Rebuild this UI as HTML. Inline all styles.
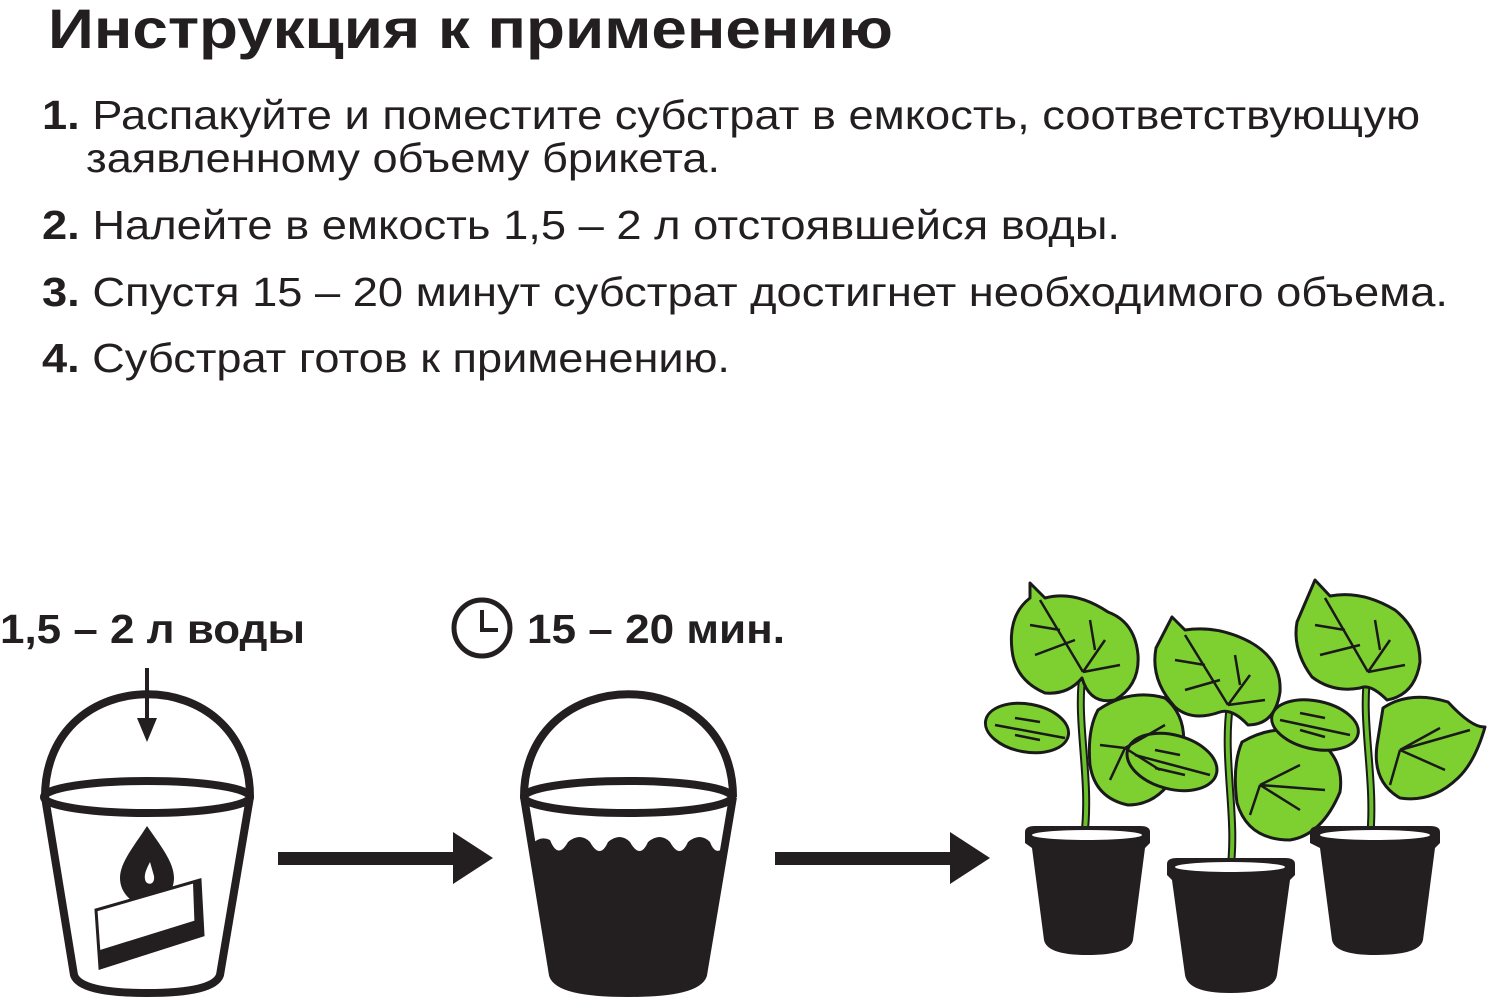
<!DOCTYPE html>
<html><head><meta charset="utf-8"><style>
html,body{margin:0;padding:0;background:#fff;width:1500px;height:1003px;overflow:hidden}
svg{display:block}
text{font-family:"Liberation Sans",Arial,sans-serif;fill:#231f20}
</style></head><body>
<svg width="1500" height="1003" viewBox="0 0 1500 1003" xmlns="http://www.w3.org/2000/svg">
<text x="48" y="48" font-size="56" font-weight="bold" textLength="845" lengthAdjust="spacingAndGlyphs">Инструкция к применению</text>
<g font-size="41">
<text x="42" y="129" textLength="1378" lengthAdjust="spacingAndGlyphs"><tspan font-weight="bold">1.</tspan> Распакуйте и поместите субстрат в емкость, соответствующую</text>
<text x="86" y="172" textLength="634" lengthAdjust="spacingAndGlyphs">заявленному объему брикета.</text>
<text x="42" y="239" textLength="1078" lengthAdjust="spacingAndGlyphs"><tspan font-weight="bold">2.</tspan> Налейте в емкость 1,5 – 2 л отстоявшейся воды.</text>
<text x="42" y="306" textLength="1406" lengthAdjust="spacingAndGlyphs"><tspan font-weight="bold">3.</tspan> Спустя 15 – 20 минут субстрат достигнет необходимого объема.</text>
<text x="42" y="372" textLength="688" lengthAdjust="spacingAndGlyphs"><tspan font-weight="bold">4.</tspan> Субстрат готов к применению.</text>
</g>
<text x="0" y="643" font-size="41" font-weight="bold" textLength="305" lengthAdjust="spacingAndGlyphs">1,5 – 2 л воды</text>
<text x="527" y="643" font-size="41" font-weight="bold" textLength="258" lengthAdjust="spacingAndGlyphs">15 – 20 мин.</text>
<circle cx="482" cy="628" r="28" fill="none" stroke="#231f20" stroke-width="5"/>
<path d="M482 610 V630 H498" fill="none" stroke="#231f20" stroke-width="4"/>

<!-- bucket 1 -->
<g fill="none" stroke="#231f20" stroke-width="8">
<path d="M45 797 C45 660 250 660 250 797"/>
<ellipse cx="147" cy="797" rx="103" ry="16"/>
<path d="M45 797 L74 975 Q80 993 147 993 Q214 993 220 975 L250 797"/>
</g>
<path d="M147 668 V720" stroke="#231f20" stroke-width="4"/>
<path d="M137 718 H157 L147 742 Z" fill="#231f20"/>
<path d="M147 826 C135 845 120 862 120 878 A20 20 0 0 0 174 878 C174 862 160 845 147 826 Z" fill="#231f20"/>
<path d="M150 862 C146 870 143 876 146 882 C150 886 155 883 154 876 Z" fill="#fff"/>
<path d="M96 910 L200 880 L203 935 L100 968 Z" fill="#fff" stroke="#231f20" stroke-width="3"/>
<path d="M100 950 L203 918 L203 935 L100 968 Z" fill="#231f20"/>
<path d="M193 883 L200 880 L203 935 L195 938 Z" fill="#231f20"/>

<!-- arrows -->
<rect x="278" y="852" width="178" height="13" fill="#231f20"/>
<path d="M453 832 L493 858 L453 884 Z" fill="#231f20"/>
<rect x="775" y="852" width="178" height="13" fill="#231f20"/>
<path d="M950 832 L990 858 L950 884 Z" fill="#231f20"/>

<!-- bucket 2 -->
<path d="M531 845 Q540 835 550 840 Q558 860 568 842 Q580 832 590 842 Q600 860 608 842 Q620 832 630 842 Q640 860 648 842 Q660 832 670 842 Q680 860 688 842 Q700 832 710 842 Q716 858 726 845 L702 975 Q696 993 627 993 Q558 993 552 975 Z" fill="#231f20"/>
<g fill="none" stroke="#231f20" stroke-width="8">
<path d="M524 797 C524 660 733 660 733 797"/>
<ellipse cx="628" cy="797" rx="104" ry="16"/>
<path d="M524 797 L553 975 Q559 993 628 993 Q697 993 703 975 L733 797"/>
</g>

<!-- plants -->
<g stroke="#1a1a1a" stroke-width="3" fill="#7ed030" stroke-linejoin="round">
<path d="M1083 672 C1075 720 1092 780 1084 838" fill="none" stroke="#1a1a1a" stroke-width="8"/>
<path d="M1083 672 C1075 720 1092 780 1084 838" fill="none" stroke="#6cc02a" stroke-width="4"/>
<path d="M1230 705 C1222 760 1238 820 1230 872" fill="none" stroke="#1a1a1a" stroke-width="8"/>
<path d="M1230 705 C1222 760 1238 820 1230 872" fill="none" stroke="#6cc02a" stroke-width="4"/>
<path d="M1368 672 C1360 720 1376 780 1370 838" fill="none" stroke="#1a1a1a" stroke-width="8"/>
<path d="M1368 672 C1360 720 1376 780 1370 838" fill="none" stroke="#6cc02a" stroke-width="4"/>

<path d="M1030 583 L1045 598 Q1075 590 1108 612 Q1135 622 1138 655 Q1140 685 1115 700 Q1090 705 1082 678 Q1068 695 1045 693 Q1015 680 1012 650 Q1008 615 1030 598 Z"/>
<ellipse cx="1027" cy="728" rx="42" ry="24" transform="rotate(10 1027 728)"/>
<path d="M1098 710 Q1130 688 1165 698 Q1192 720 1180 765 Q1162 805 1128 805 Q1095 798 1090 765 Q1087 730 1098 710 Z"/>

<path d="M1172 617 L1185 630 Q1218 625 1250 642 Q1282 660 1280 692 Q1275 725 1248 725 Q1232 708 1220 712 Q1192 722 1175 707 Q1150 680 1156 648 Z"/>
<ellipse cx="1172" cy="762" rx="46" ry="27" transform="rotate(15 1172 762)"/>
<path d="M1242 742 Q1280 720 1315 738 Q1345 758 1340 792 Q1322 835 1290 840 Q1248 840 1237 803 Q1232 765 1242 742 Z"/>

<path d="M1315 580 L1330 596 Q1362 590 1395 610 Q1420 630 1420 662 Q1415 695 1387 700 Q1370 683 1360 688 Q1333 693 1312 677 Q1292 650 1297 622 Z"/>
<ellipse cx="1315" cy="725" rx="44" ry="24" transform="rotate(12 1315 725)"/>
<path d="M1383 708 Q1410 690 1448 702 Q1472 728 1485 727 Q1475 762 1458 778 Q1432 803 1400 798 Q1372 782 1377 745 Z"/>
</g>
<g stroke="#1a1a1a" stroke-width="2.5" fill="none">
<path d="M1040 600 L1083 672 M1060 630 L1030 625 M1075 640 L1035 655 M1083 672 L1105 640 M1083 672 L1120 665 M1095 650 L1090 620"/>
<path d="M995 725 L1065 738 M1015 718 L1040 722 M1015 735 L1040 740"/>
<path d="M1125 748 L1165 725 M1125 748 L1110 780 M1125 748 L1160 770 M1125 748 L1100 745"/>
<path d="M1185 635 L1228 705 M1205 665 L1175 660 M1220 680 L1185 690 M1228 705 L1250 675 M1228 705 L1265 700 M1240 685 L1235 655"/>
<path d="M1135 755 L1210 775 M1155 750 L1180 755 M1155 768 L1185 775"/>
<path d="M1260 785 L1300 765 M1260 785 L1250 815 M1260 785 L1300 810 M1260 785 L1325 790"/>
<path d="M1325 598 L1368 672 M1345 630 L1315 625 M1360 645 L1320 655 M1368 672 L1390 640 M1368 672 L1405 665 M1380 650 L1375 620"/>
<path d="M1280 720 L1350 735 M1300 713 L1325 718 M1300 730 L1325 737"/>
<path d="M1400 750 L1440 728 M1400 750 L1390 785 M1400 750 L1445 770 M1400 750 L1470 730"/>
</g>

<!-- pots -->
<g fill="#231f20">
<path d="M1025 832 Q1025 826 1035 826 L1140 826 Q1150 826 1150 832 L1150 843 L1145 848 L1133 940 Q1130 955 1087 955 Q1047 955 1044 940 L1032 848 L1025 843 Z"/>
<ellipse cx="1087" cy="835" rx="55" ry="5" fill="#fff"/>
<path d="M1167 864 Q1167 858 1177 858 L1285 858 Q1295 858 1295 864 L1295 875 L1290 880 L1277 975 Q1274 993 1230 993 Q1188 993 1185 975 L1172 880 L1167 875 Z"/>
<ellipse cx="1230" cy="867" rx="55" ry="5" fill="#fff"/>
<path d="M1310 832 Q1310 826 1320 826 L1430 826 Q1440 826 1440 832 L1440 843 L1435 848 L1423 940 Q1420 955 1375 955 Q1335 955 1332 940 L1320 848 L1310 843 Z"/>
<ellipse cx="1375" cy="835" rx="55" ry="5" fill="#fff"/>
</g>
</svg>
</body></html>
